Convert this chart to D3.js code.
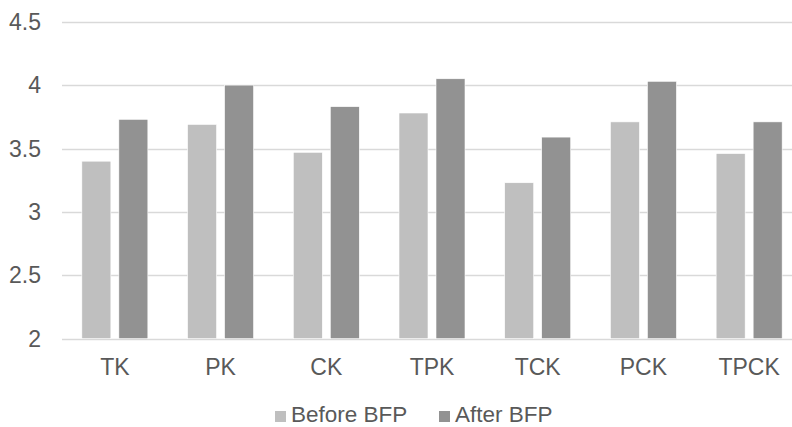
<!DOCTYPE html>
<html>
<head>
<meta charset="utf-8">
<script src="https://cdn.jsdelivr.net/npm/d3@7/dist/d3.min.js"></script>
<style>
  html, body { margin: 0; padding: 0; background: #fff; }
  svg { display: block; }
  text { font-family: "Liberation Sans", Arial, sans-serif; fill: #595959; }
</style>
</head>
<body>
<svg id="chart" width="792" height="427"></svg>
<script>
// Knowledge domains and mean scores before / after BFP
const categories = ["TK", "PK", "CK", "TPK", "TCK", "PCK", "TPCK"];
const seriesNames = ["Before BFP", "After BFP"];
const beforeValues = [3.40, 3.69, 3.47, 3.78, 3.23, 3.71, 3.46];
const afterValues  = [3.73, 4.00, 3.83, 4.05, 3.59, 4.03, 3.71];
const yTicks = [2, 2.5, 3, 3.5, 4, 4.5];
const colors = ["#bfbfbf", "#929292"];

const svg = d3.select("#chart");
const W = 792;
const plot = { left: 62, right: 802, top: 21.7, bottom: 338.7 };

const rows = categories.map((c, i) => ({ cat: c, values: [beforeValues[i], afterValues[i]] }));

const y = d3.scaleLinear().domain([2, 4.5]).range([plot.bottom, plot.top]);
const x0 = d3.scaleBand().domain(categories).range([plot.left, plot.right])
  .paddingInner(0.3756).paddingOuter(0.1878);
const x1 = d3.scaleBand().domain(seriesNames).range([0, x0.bandwidth()]).paddingInner(0.216);

// horizontal gridlines
svg.append("g").selectAll("line").data(yTicks).join("line")
  .attr("x1", plot.left).attr("x2", W)
  .attr("y1", d => Math.round(y(d)) + 0.5).attr("y2", d => Math.round(y(d)) + 0.5)
  .attr("stroke", "#d9d9d9").attr("stroke-width", 1.3);

// y tick labels
svg.append("g").selectAll("text").data(yTicks).join("text")
  .attr("x", 41).attr("y", d => y(d) + 8)
  .attr("text-anchor", "end").attr("font-size", 23)
  .text(d => d);

// bars
const groups = svg.append("g").selectAll("g").data(rows).join("g")
  .attr("transform", d => `translate(${x0(d.cat)},0)`);
groups.selectAll("rect")
  .data(d => d.values.map((v, k) => ({ key: seriesNames[k], v, k })))
  .join("rect")
  .attr("x", d => x1(d.key))
  .attr("width", x1.bandwidth())
  .attr("y", d => y(d.v))
  .attr("height", d => y(2) - y(d.v))
  .attr("fill", d => colors[d.k])
  .attr("stroke", "#ffffff").attr("stroke-width", 0.6);

// x category labels
svg.append("g").selectAll("text").data(categories).join("text")
  .attr("x", d => x0(d) + x0.bandwidth() / 2).attr("y", 375)
  .attr("text-anchor", "middle").attr("font-size", 23)
  .text(d => d);

// legend
const legend = svg.append("g");
const legendX = [275, 439];
seriesNames.forEach((name, k) => {
  const g = legend.append("g").attr("transform", `translate(${legendX[k]},0)`);
  g.append("rect").attr("x", 0).attr("y", 411).attr("width", 11).attr("height", 11)
    .attr("fill", colors[k]);
  g.append("text").attr("x", 16).attr("y", 422).attr("font-size", 22.5).text(name);
});
</script>
</body>
</html>
